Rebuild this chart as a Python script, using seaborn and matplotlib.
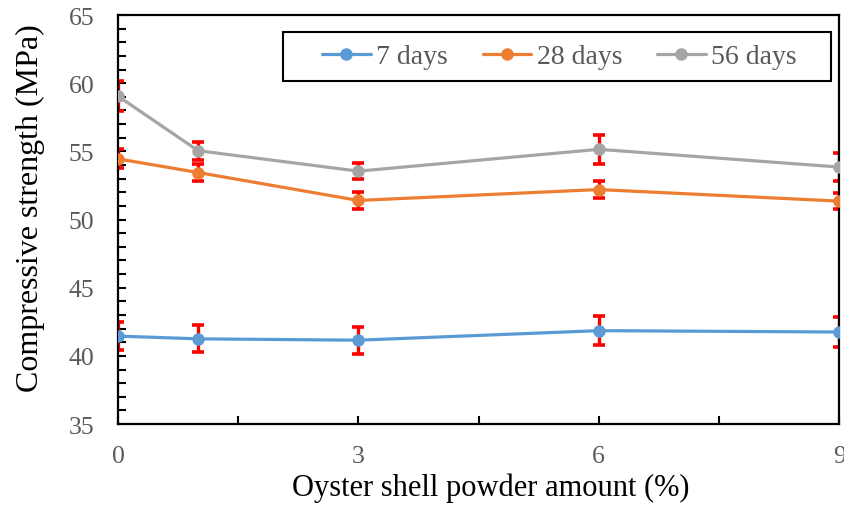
import matplotlib
matplotlib.use("Agg")
import matplotlib.pyplot as plt
from matplotlib.patches import Rectangle
from matplotlib.ticker import FixedLocator, MultipleLocator
import seaborn as sns
import pandas as pd

# Oyster shell powder replacement (%) and mean compressive strength (MPa)
powder = [0, 1, 3, 6, 9]
ages = ["7 days", "28 days", "56 days"]
strength_7d = [41.45, 41.25, 41.15, 41.85, 41.75]
strength_28d = [54.45, 53.45, 51.4, 52.2, 51.35]
strength_56d = [59.05, 55.05, 53.55, 55.15, 53.85]
err_7d = [1.0, 1.0, 1.0, 1.05, 1.1]
err_28d = [0.7, 0.6, 0.65, 0.65, 0.6]
err_56d = [1.1, 0.65, 0.6, 1.05, 1.05]
x_tick_labels = ["0", "3", "6", "9"]
y_ticks = [35, 40, 45, 50, 55, 60, 65]

colors = ["#5B9BD5", "#ED7D31", "#A5A5A5"]

sns.set_style("white")
plt.rcParams["font.family"] = ["Liberation Serif", "DejaVu Serif"]

means = [strength_7d, strength_28d, strength_56d]
errs = [err_7d, err_28d, err_56d]
df = pd.DataFrame({
    "powder": powder * 3,
    "strength": [v for s in means for v in s],
    "age": [a for a in ages for _ in powder],
})

fig = plt.figure(figsize=(8.44, 5.06), dpi=100)
ax = fig.add_axes([0.1398, 0.160, 0.8545, 0.8083])

# red error bars underneath the series
for m, e in zip(means, errs):
    ax.errorbar(powder, m, yerr=e, fmt="none", ecolor="#FF0000",
                elinewidth=2.4, capsize=4, capthick=2.6, zorder=2)

sns.lineplot(data=df, x="powder", y="strength", hue="age", hue_order=ages,
             palette=colors, marker="o", markersize=9, markeredgewidth=0,
             linewidth=2.3, ax=ax, zorder=3)

ax.set_xlim(0, 9)
ax.set_ylim(35, 65)
ax.xaxis.set_major_locator(FixedLocator([0, 3, 6, 9]))
ax.set_xticklabels(x_tick_labels)
ax.xaxis.set_minor_locator(FixedLocator([1.5, 4.5, 7.5]))
ax.set_yticks(y_ticks)
ax.yaxis.set_minor_locator(MultipleLocator(1))

ax.tick_params(axis="both", which="both", direction="in", length=5.5,
               width=1.5, color="black", labelcolor="#595959", labelsize=18.5)
ax.tick_params(axis="x", which="both", pad=15)
ax.tick_params(axis="y", which="both", pad=17)
ax.tick_params(axis="both", which="both", top=False, right=False,
               bottom=True, left=True)

for sp in ax.spines.values():
    sp.set_visible(True)
    sp.set_color("black")
    sp.set_linewidth(1.6)

ax.set_xlabel("Oyster shell powder amount (%)", fontsize=22, color="black")
ax.set_ylabel("Compressive strength (MPa)", fontsize=23, color="black")
ax.xaxis.set_label_coords(0.517, -0.118)
ax.yaxis.set_label_coords(-0.101, 0.530)

# legend entries without frame, boxed by a plain rectangle
leg = ax.legend(loc="center", bbox_to_anchor=(0.612, 0.8985), ncol=3,
                fontsize=20, frameon=False, handlelength=1.75,
                handletextpad=0.2, columnspacing=1.25, borderpad=0,
                borderaxespad=0)
for t in leg.get_texts():
    t.set_color("#595959")
ax.add_patch(Rectangle((0.2288, 0.8386), 0.7601, 0.1198,
                       transform=ax.transAxes, fill=False,
                       edgecolor="black", linewidth=1.5, zorder=5))

fig.savefig("out.png", dpi=100)
